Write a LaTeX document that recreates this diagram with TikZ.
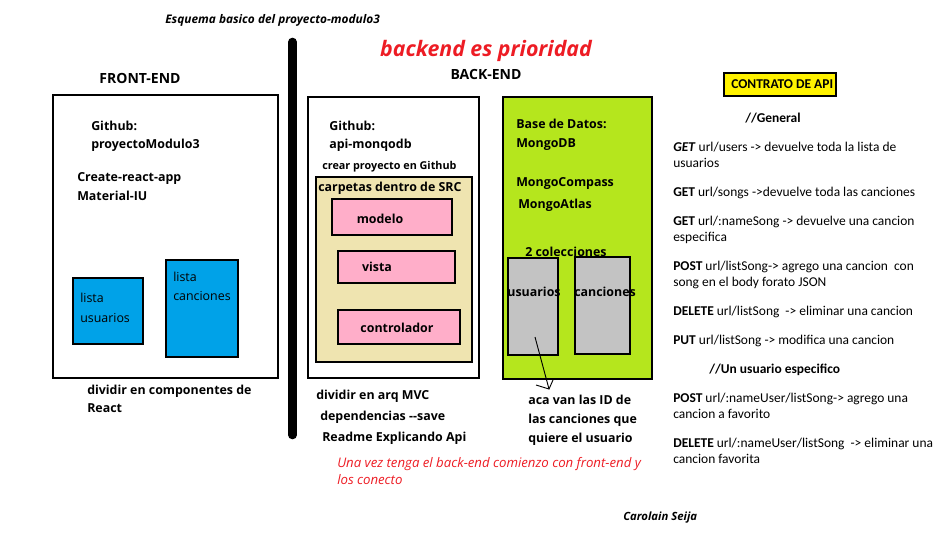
\documentclass[tikz,border=0pt]{standalone}
\usepackage{fontspec}
\setmainfont{Open Sans}
\newfontfamily\apifont{Carlito}
\usetikzlibrary{fit}
\definecolor{bluebox}{HTML}{00A2E8}
\definecolor{tanbox}{HTML}{EFE4B0}
\definecolor{pinkbox}{HTML}{FFAEC9}
\definecolor{greenbox}{HTML}{B5E61D}
\definecolor{graybox}{HTML}{C3C3C3}
\definecolor{redtxt}{HTML}{ED1C24}
\begin{document}
\begin{tikzpicture}[x=0.75pt,y=-0.75pt,
  box/.style={draw=black, line width=0.9pt, inner sep=0pt},
  txt/.style={anchor=west, inner sep=0pt, font=\fontsize{9.3}{11}\selectfont\bfseries, text height=1.5ex, text depth=.3ex},
  ctxt/.style={txt, anchor=center},
  reg/.style={font=\fontsize{9.3}{11}\selectfont},
  small/.style={txt, font=\fontsize{8.1}{10}\selectfont\bfseries},
  head/.style={ctxt, font=\fontsize{10.5}{12}\selectfont\bfseries},
  redt/.style={txt, text=redtxt, font=\fontsize{9.9}{12}\selectfont\itshape},
  api/.style={anchor=west, inner sep=0pt, font=\apifont\fontsize{10.1}{12}\selectfont, text height=1.5ex, text depth=.3ex},
  apib/.style={api, font=\apifont\fontsize{10.1}{12}\selectfont\bfseries}
]
\useasboundingbox (0,0) rectangle (952,533);
% title
\node[txt, font=\fontsize{8.9}{10}\selectfont\bfseries\itshape] (title) at (165,19) {Esquema basico del proyecto-modulo3};
\node[anchor=center, inner sep=0pt, text=redtxt, font=\fontsize{16}{18}\selectfont\bfseries\itshape] (prio) at (486,51) {backend es prioridad};
\node[head] (fe) at (140,79) {FRONT-END};
\node[head] (be) at (486,75) {BACK-END};
% divider bar
\coordinate (bartop) at (292.5,42);
\coordinate (barbot) at (292.5,435);
\draw[line width=6.5pt, line cap=round] (bartop) -- (barbot);
% front box
\node[box, fit={(53,95) (278,378)}] (front) {};
\node[txt] (fg1) at (91,126) {Github:};
\node[txt] (fg2) at (91,144) {proyectoModulo3};
\node[txt] (fc1) at (77,177) {Create-react-app};
\node[txt] (fc2) at (77,196) {Material-IU};
\node[box, fill=bluebox, fit={(73,278) (143,344)}] (lu) {};
\node[box, fill=bluebox, fit={(166,260) (238,357)}] (lc) {};
\node[txt, reg] (lu1) at (80,298) {lista};
\node[txt, reg] (lu2) at (80,318) {usuarios};
\node[txt, reg] (lc1) at (173,277) {lista};
\node[txt, reg] (lc2) at (173,296) {canciones};
\node[txt] (fd1) at (87,390) {dividir en componentes de};
\node[txt] (fd2) at (87,408) {React};
% backend api box
\node[box, fit={(308,97) (479,378)}] (api) {};
\node[txt] (bg1) at (329,126) {Github:};
\node[txt] (bg2) at (329,144) {api-monqodb};
\node[small] (crear) at (322,165) {crear proyecto en Github};
\node[box, fill=tanbox, fit={(316,177) (472,362)}] (src) {};
\node[txt] (srct) at (318,187) {carpetas dentro de SRC};
\node[box, fill=pinkbox, fit={(332,199) (452,235)}] (modelo) {};
\node[box, fill=pinkbox, fit={(338,251) (455,283)}] (vista) {};
\node[box, fill=pinkbox, fit={(338,310) (460,344)}] (ctrl) {};
\node[ctxt] (modelot) at (380,219) {modelo};
\node[ctxt] (vistat) at (377,267) {vista};
\node[ctxt] (ctrlt) at (397,328) {controlador};
\node[txt] (bd1) at (316,395) {dividir en arq MVC};
\node[txt] (bd2) at (320,416) {dependencias -{}-save};
\node[txt] (bd3) at (322,437) {Readme Explicando Api};
% database box
\node[box, fill=greenbox, fit={(503,97) (652,379)}] (db) {};
\node[txt] (db1) at (516,124) {Base de Datos:};
\node[txt] (db2) at (516,143) {MongoDB};
\node[txt] (db3) at (516,182) {MongoCompass};
\node[txt] (db4) at (518,204) {MongoAtlas};
\node[txt] (db5) at (525,252) {2 colecciones};
\node[box, fill=graybox, fit={(508,258) (558,355)}] (cu) {};
\node[box, fill=graybox, fit={(575,257) (630,354)}] (cc) {};
\node[ctxt] (cut) at (534,292) {usuarios};
\node[ctxt] (cct) at (605,292) {canciones};
% arrow
\coordinate (arS) at (535,337);
\coordinate (arT) at (549,389);
\coordinate (arL) at (536,385);
\coordinate (arR) at (553,380);
\draw[line width=0.7pt] (arS) -- (arT);
\draw[line width=0.7pt] (arL) -- (arT) -- (arR);
\node[txt] (aca1) at (528,400) {aca van las ID de};
\node[txt] (aca2) at (528,419) {las canciones que};
\node[txt] (aca3) at (528,438) {quiere el usuario};
% red note
\node[redt] (r1) at (337,463) {Una vez tenga el back-end comienzo con front-end y};
\node[redt] (r2) at (337,480) {los conecto};
\node[txt, font=\fontsize{8.5}{10}\selectfont\bfseries\itshape] (author) at (623,516) {Carolain Seija};
% API contract
\node[box, fill=yellow, fit={(724,73) (836,96)}] (contrato) {};
\node[apib] (contt) at (731,84) {CONTRATO DE API};
\node[apib] (gen) at (745,118) {//General};
\node[api] (a1) at (673,147) {\textbf{\textit{GET}} url/users -> devuelve toda la lista de};
\node[api] (a1b) at (673,163) {usuarios};
\node[api] (a2) at (673,192) {\textbf{GET} url/songs ->devuelve toda las canciones};
\node[api] (a3) at (673,221) {\textbf{GET} url/:nameSong -> devuelve una cancion};
\node[api] (a3b) at (673,237) {especifica};
\node[api] (a4) at (673,266) {\textbf{POST} url/listSong-> agrego una cancion\ \ con};
\node[api] (a4b) at (673,282) {song en el body forato JSON};
\node[api] (a5) at (673,311) {\textbf{DELETE} url/listSong\ \ -> eliminar una cancion};
\node[api] (a6) at (673,340) {\textbf{PUT} url/listSong -> modifica una cancion};
\node[apib] (uno) at (709,369) {//Un usuario especifico};
\node[api] (a7) at (673,398) {\textbf{POST} url/:nameUser/listSong-> agrego una};
\node[api] (a7b) at (673,414) {cancion a favorito};
\node[api] (a8) at (673,443) {\textbf{DELETE} url/:nameUser/listSong\ \ -> eliminar una};
\node[api] (a8b) at (673,459) {cancion favorita};
\end{tikzpicture}
\end{document}
